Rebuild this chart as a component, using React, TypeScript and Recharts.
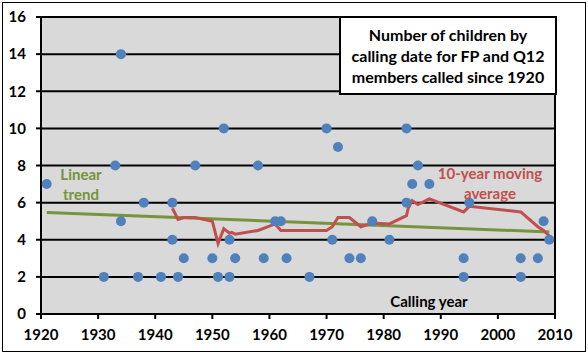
import React from "react";
import {
  ComposedChart,
  Scatter,
  Line,
  XAxis,
  YAxis,
  CartesianGrid,
  ReferenceLine,
} from "recharts";

// Calling year / number of children (each dot)
const callingYears = [
  1921, 1931, 1933, 1934, 1934, 1937, 1938, 1941, 1943, 1943, 1944, 1945, 1947,
  1950, 1951, 1952, 1953, 1953, 1954, 1958, 1959, 1961, 1962, 1963, 1967, 1970,
  1971, 1972, 1974, 1976, 1978, 1981, 1984, 1984, 1985, 1986, 1988, 1994, 1994,
  1995, 2004, 2004, 2007, 2008, 2009,
];
const childrenCounts = [
  7, 2, 8, 14, 5, 2, 6, 2, 6, 4, 2, 3, 8,
  3, 2, 10, 4, 2, 3, 8, 3, 5, 5, 3, 2, 10,
  4, 9, 3, 3, 5, 4, 10, 6, 7, 8, 7, 3, 2,
  6, 3, 2, 3, 5, 4,
];

// 10-year moving average
const maYears = [
  1943, 1944, 1945, 1947, 1950, 1951, 1952, 1953, 1953.4, 1954, 1958, 1961,
  1962, 1963, 1967, 1970, 1971, 1972, 1974, 1976, 1978, 1981, 1984, 1984.3,
  1985, 1986, 1988, 1994, 1995, 2004, 2007, 2008, 2009,
];
const maValues = [
  5.7, 5.1, 5.2, 5.2, 5.0, 3.8, 4.6, 4.35, 4.4, 4.3, 4.5, 4.85,
  4.5, 4.5, 4.5, 4.5, 4.7, 5.2, 5.2, 4.7, 4.9, 4.85, 5.3, 5.7,
  6.1, 5.9, 6.2, 5.5, 5.8, 5.5, 4.7, 4.5, 4.2,
];

// Linear trend endpoints
const trendYears = [1921, 2009];
const trendValues = [5.47, 4.42];

const xTicks = [1920, 1930, 1940, 1950, 1960, 1970, 1980, 1990, 2000, 2010];
const yTicks = [0, 2, 4, 6, 8, 10, 12, 14, 16];

const titleLines = [
  "Number of children by",
  "calling date for FP and Q12",
  "members called since 1920",
];

const dots = callingYears.map((x, i) => ({ x, y: childrenCounts[i] }));
const maData = maYears.map((x, i) => ({ x, y: maValues[i] }));
const trendData = trendYears.map((x, i) => ({ x, y: trendValues[i] }));

const FONT = "Lato, 'Open Sans', sans-serif";
const tickStyle = { fontFamily: FONT, fontWeight: 700, fontSize: 15, fill: "#000" };

const Dot = (props: any) => (
  <circle cx={props.cx} cy={props.cy} r={5} fill="#4f81bd" />
);

export default function App() {
  return (
    <div
      style={{
        position: "absolute",
        left: 0,
        top: 0,
        width: 588,
        height: 354,
        background: "#fff",
        fontFamily: FONT,
      }}
    >
      <div
        style={{
          position: "absolute",
          left: 2,
          top: 2,
          width: 582,
          height: 348,
          border: "1px solid #000",
        }}
      />
      <ComposedChart
        width={588}
        height={354}
        margin={{ top: 17, right: 33, bottom: 10, left: 0 }}
        style={{ position: "absolute", left: 0, top: 0 }}
      >
        <CartesianGrid
          vertical={false}
          horizontal={true}
          stroke="#000"
          strokeWidth={2}
          fill="#d9d9d9"
          fillOpacity={1}
        />
        <XAxis
          type="number"
          dataKey="x"
          domain={[1920, 2010]}
          ticks={xTicks}
          interval={0}
          height={30}
          axisLine={{ stroke: "#000", strokeWidth: 2 }}
          tickLine={{ stroke: "#000", strokeWidth: 2 }}
          tickSize={5}
          tickMargin={10}
          tick={tickStyle}
          allowDuplicatedCategory={true}
        />
        <YAxis
          type="number"
          dataKey="y"
          domain={[0, 16]}
          ticks={yTicks}
          interval={0}
          width={41}
          axisLine={{ stroke: "#000", strokeWidth: 2 }}
          tickLine={{ stroke: "#000", strokeWidth: 2 }}
          tickSize={5}
          tickMargin={10}
          tick={tickStyle}
        />
        <ReferenceLine x={2010} stroke="#000" strokeWidth={2} />
        <Scatter
          data={dots}
          dataKey="y"
          shape={Dot}
          isAnimationActive={false}
        />
        <Line
          data={trendData}
          dataKey="y"
          type="linear"
          stroke="#77933c"
          strokeWidth={3}
          dot={false}
          activeDot={false}
          isAnimationActive={false}
        />
        <Line
          data={maData}
          dataKey="y"
          type="linear"
          stroke="#c0504d"
          strokeWidth={3}
          dot={false}
          activeDot={false}
          isAnimationActive={false}
        />
      </ComposedChart>
      <div
        style={{
          position: "absolute",
          left: 339,
          top: 16,
          width: 214,
          height: 75,
          background: "#fff",
          border: "2px solid #000",
          display: "flex",
          flexDirection: "column",
          justifyContent: "center",
          alignItems: "center",
          fontWeight: 700,
          fontSize: 16,
          lineHeight: "21px",
          color: "#000",
          textAlign: "center",
        }}
      >
        {titleLines.map((t) => (
          <div key={t}>{t}</div>
        ))}
      </div>
      <div
        style={{
          position: "absolute",
          left: 40,
          top: 164,
          width: 82,
          textAlign: "center",
          color: "#77933c",
          fontWeight: 700,
          fontSize: 15,
          lineHeight: "20px",
        }}
      >
        <div>Linear</div>
        <div>trend</div>
      </div>
      <div
        style={{
          position: "absolute",
          left: 430,
          top: 163,
          width: 120,
          textAlign: "center",
          color: "#c0504d",
          fontWeight: 700,
          fontSize: 15,
          lineHeight: "20px",
        }}
      >
        <div>10-year moving</div>
        <div>average</div>
      </div>
      <div
        style={{
          position: "absolute",
          left: 379,
          top: 291,
          width: 100,
          textAlign: "center",
          color: "#000",
          fontWeight: 700,
          fontSize: 15,
          lineHeight: "20px",
        }}
      >
        Calling year
      </div>
    </div>
  );
}
